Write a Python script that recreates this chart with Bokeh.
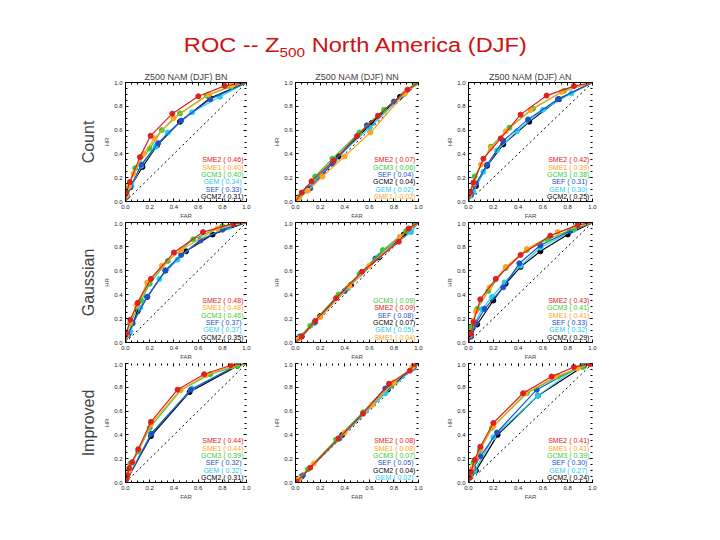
from bokeh.plotting import figure
from bokeh.models import (Div, LinearAxis, Title, Range1d, ColumnDataSource,
                          SingleIntervalTicker, PrintfTickFormatter)
from bokeh.layouts import column, row
from bokeh.embed import file_html
from bokeh.resources import INLINE
from bokeh.core.properties import value

MODELS_DRAW_ORDER = ["GCM2", "GEM", "SEF", "GCM3", "SME1", "SME2"]
COLORS = {"SME2": "#dd2020", "SME1": "#ffa520", "GCM3": "#33cc33",
          "GEM": "#22ccee", "SEF": "#2050c8", "GCM2": "#000000"}
METHODS = ["Count", "Gaussian", "Improved"]
CATEGORIES = ["BN", "NN", "AN"]
NO_SKILL = [0.0, 1.0]

# ---------------- Count ----------------
count_bn_far = dict(
    SME2=[0, 0.006, 0.036, 0.119, 0.207, 0.387, 0.602, 0.82, 1],
    SME1=[0, 0.01, 0.03, 0.066, 0.15, 0.24, 0.395, 0.69, 0.88, 1],
    GCM3=[0, 0.005, 0.02, 0.08, 0.20, 0.30, 0.45, 0.67, 0.87, 1],
    GEM=[0, 0.015, 0.05, 0.13, 0.25, 0.35, 0.55, 0.78, 1],
    SEF=[0, 0.01, 0.04, 0.13, 0.27, 0.46, 0.70, 1],
    GCM2=[0, 0.01, 0.04, 0.14, 0.26, 0.45, 0.70, 1])
count_bn_hr = dict(
    SME2=[0, 0.075, 0.163, 0.373, 0.552, 0.738, 0.884, 0.972, 1],
    SME1=[0, 0.05, 0.13, 0.232, 0.40, 0.53, 0.70, 0.90, 0.975, 1],
    GCM3=[0, 0.05, 0.12, 0.28, 0.445, 0.60, 0.74, 0.89, 0.965, 1],
    GEM=[0, 0.05, 0.13, 0.30, 0.46, 0.58, 0.75, 0.88, 1],
    SEF=[0, 0.04, 0.12, 0.31, 0.49, 0.68, 0.86, 1],
    GCM2=[0, 0.04, 0.12, 0.29, 0.47, 0.67, 0.87, 1])
count_bn_legend = ["SME2", "SME1", "GCM3", "GEM", "SEF", "GCM2"]
count_bn_score = [0.46, 0.40, 0.40, 0.34, 0.33, 0.31]

count_nn_far = dict(
    SME2=[0, 0.05, 0.13, 0.31, 0.50, 0.67, 0.91, 1],
    SME1=[0, 0.02, 0.10, 0.22, 0.40, 0.61, 0.89, 1],
    GCM3=[0, 0.03, 0.16, 0.30, 0.52, 0.72, 0.97, 1],
    GEM=[0, 0.08, 0.32, 0.60, 0.88, 1],
    SEF=[0, 0.12, 0.30, 0.58, 0.80, 1],
    GCM2=[0, 0.10, 0.35, 0.62, 0.85, 1])
count_nn_hr = dict(
    SME2=[0, 0.075, 0.17, 0.345, 0.55, 0.72, 0.94, 1],
    SME1=[0, 0.02, 0.09, 0.21, 0.38, 0.58, 0.91, 1],
    GCM3=[0, 0.04, 0.21, 0.36, 0.58, 0.77, 0.99, 1],
    GEM=[0, 0.09, 0.35, 0.62, 0.90, 1],
    SEF=[0, 0.11, 0.32, 0.64, 0.84, 1],
    GCM2=[0, 0.11, 0.38, 0.66, 0.88, 1])
count_nn_legend = ["SME2", "GCM3", "SEF", "GCM2", "GEM", "SME1"]
count_nn_score = [0.07, 0.06, 0.04, 0.04, 0.02, -0.02]

count_an_far = dict(
    SME2=[0, 0.014, 0.04, 0.12, 0.26, 0.42, 0.63, 0.85, 1],
    SME1=[0, 0.01, 0.04, 0.10, 0.18, 0.30, 0.50, 0.75, 1],
    GCM3=[0, 0.01, 0.05, 0.18, 0.33, 0.52, 0.77, 1],
    GEM=[0, 0.02, 0.04, 0.12, 0.23, 0.39, 0.60, 0.83, 1],
    SEF=[0, 0.02, 0.06, 0.15, 0.28, 0.48, 0.72, 1],
    GCM2=[0, 0.02, 0.06, 0.15, 0.28, 0.49, 0.73, 1])
count_an_hr = dict(
    SME2=[0, 0.075, 0.16, 0.36, 0.53, 0.73, 0.89, 0.97, 1],
    SME1=[0, 0.06, 0.15, 0.31, 0.45, 0.59, 0.77, 0.92, 1],
    GCM3=[0, 0.07, 0.21, 0.46, 0.62, 0.78, 0.93, 1],
    GEM=[0, 0.05, 0.08, 0.25, 0.43, 0.59, 0.77, 0.91, 1],
    SEF=[0, 0.06, 0.15, 0.31, 0.51, 0.69, 0.86, 1],
    GCM2=[0, 0.07, 0.13, 0.30, 0.48, 0.67, 0.86, 1])
count_an_legend = ["SME2", "SME1", "GCM3", "SEF", "GEM", "GCM2"]
count_an_score = [0.42, 0.39, 0.38, 0.31, 0.30, 0.25]

# ---------------- Gaussian ----------------
gauss_bn_far = dict(
    SME2=[0, 0.006, 0.04, 0.10, 0.21, 0.40, 0.64, 0.89, 1],
    SME1=[0, 0.01, 0.04, 0.09, 0.18, 0.30, 0.46, 0.76, 1],
    GCM3=[0, 0.005, 0.04, 0.13, 0.20, 0.35, 0.56, 0.80, 1],
    GEM=[0, 0.04, 0.12, 0.28, 0.43, 0.62, 0.85, 1],
    SEF=[0, 0.02, 0.06, 0.18, 0.33, 0.46, 0.62, 0.80, 1],
    GCM2=[0, 0.03, 0.10, 0.18, 0.33, 0.50, 0.72, 1])
gauss_bn_hr = dict(
    SME2=[0, 0.075, 0.19, 0.33, 0.53, 0.75, 0.92, 0.99, 1],
    SME1=[0, 0.06, 0.17, 0.31, 0.50, 0.64, 0.77, 0.95, 1],
    GCM3=[0, 0.06, 0.16, 0.35, 0.49, 0.68, 0.86, 0.97, 1],
    GEM=[0, 0.09, 0.29, 0.53, 0.69, 0.86, 0.96, 1],
    SEF=[0, 0.06, 0.16, 0.38, 0.60, 0.73, 0.85, 0.94, 1],
    GCM2=[0, 0.08, 0.26, 0.38, 0.60, 0.76, 0.90, 1])
gauss_bn_legend = ["SME2", "SME1", "GCM3", "SEF", "GEM", "GCM2"]
gauss_bn_score = [0.48, 0.48, 0.46, 0.37, 0.37, 0.35]

gauss_nn_far = dict(
    SME2=[0, 0.05, 0.16, 0.33, 0.54, 0.84, 0.92, 1],
    SME1=[0, 0.02, 0.20, 0.44, 0.60, 0.85, 1],
    GCM3=[0, 0.03, 0.12, 0.35, 0.52, 0.71, 0.90, 0.97, 1],
    GEM=[0, 0.03, 0.15, 0.42, 0.68, 0.94, 1],
    SEF=[0, 0.04, 0.16, 0.40, 0.65, 0.85, 1],
    GCM2=[0, 0.05, 0.20, 0.45, 0.68, 0.88, 1])
gauss_nn_hr = dict(
    SME2=[0, 0.05, 0.18, 0.37, 0.59, 0.84, 0.95, 1],
    SME1=[0, 0.03, 0.21, 0.47, 0.64, 0.88, 1],
    GCM3=[0, 0.04, 0.14, 0.40, 0.57, 0.77, 0.93, 0.99, 1],
    GEM=[0, 0.05, 0.16, 0.45, 0.72, 0.92, 1],
    SEF=[0, 0.05, 0.17, 0.43, 0.70, 0.88, 1],
    GCM2=[0, 0.05, 0.22, 0.48, 0.71, 0.90, 1])
gauss_nn_legend = ["GCM3", "SME2", "SEF", "GCM2", "GEM", "SME1"]
gauss_nn_score = [0.09, 0.09, 0.08, 0.07, 0.05, 0.04]

gauss_an_far = dict(
    SME2=[0, 0.02, 0.04, 0.095, 0.22, 0.42, 0.66, 0.88, 1],
    SME1=[0, 0.01, 0.04, 0.06, 0.17, 0.30, 0.47, 0.72, 1],
    GCM3=[0, 0.01, 0.02, 0.07, 0.16, 0.30, 0.47, 0.64, 0.85, 1],
    GEM=[0, 0.02, 0.04, 0.11, 0.19, 0.29, 0.42, 0.58, 0.85, 1],
    SEF=[0, 0.02, 0.06, 0.13, 0.28, 0.41, 0.58, 0.82, 1],
    GCM2=[0, 0.02, 0.07, 0.20, 0.30, 0.42, 0.58, 0.80, 1])
gauss_an_hr = dict(
    SME2=[0, 0.075, 0.17, 0.36, 0.53, 0.73, 0.89, 0.98, 1],
    SME1=[0, 0.06, 0.18, 0.26, 0.46, 0.63, 0.78, 0.92, 1],
    GCM3=[0, 0.07, 0.13, 0.28, 0.43, 0.62, 0.77, 0.86, 0.95, 1],
    GEM=[0, 0.05, 0.14, 0.28, 0.38, 0.50, 0.64, 0.79, 0.94, 1],
    SEF=[0, 0.05, 0.16, 0.28, 0.46, 0.66, 0.81, 0.93, 1],
    GCM2=[0, 0.06, 0.15, 0.35, 0.49, 0.63, 0.76, 0.90, 1])
gauss_an_legend = ["SME2", "GCM3", "SME1", "SEF", "GEM", "GCM2"]
gauss_an_score = [0.43, 0.41, 0.41, 0.33, 0.32, 0.29]

# ---------------- Improved ----------------
impr_bn_far = dict(
    SME2=[0, 0.006, 0.014, 0.03, 0.055, 0.105, 0.21, 0.43, 0.65, 0.87, 1],
    SME1=[0, 0.01, 0.03, 0.06, 0.11, 0.21, 0.45, 0.66, 0.88, 1],
    GCM3=[0, 0.01, 0.04, 0.105, 0.20, 0.455, 0.70, 0.925, 1],
    GEM=[0, 0.21, 0.55, 0.93, 1],
    SEF=[0, 0.215, 0.54, 0.925, 1],
    GCM2=[0, 0.21, 0.53, 0.925, 1])
impr_bn_hr = dict(
    SME2=[0, 0.025, 0.06, 0.12, 0.17, 0.28, 0.51, 0.78, 0.91, 0.985, 1],
    SME1=[0, 0.03, 0.10, 0.17, 0.28, 0.49, 0.776, 0.90, 0.98, 1],
    GCM3=[0, 0.04, 0.16, 0.26, 0.46, 0.775, 0.91, 0.98, 1],
    GEM=[0, 0.41, 0.79, 0.99, 1],
    SEF=[0, 0.41, 0.78, 0.985, 1],
    GCM2=[0, 0.39, 0.76, 0.98, 1])
impr_bn_legend = ["SME2", "SME1", "GCM3", "SEF", "GEM", "GCM2"]
impr_bn_score = [0.44, 0.44, 0.39, 0.32, 0.32, 0.31]

impr_nn_far = dict(
    SME2=[0, 0.01, 0.12, 0.35, 0.55, 0.76, 0.93, 0.965, 1],
    SME1=[0, 0.03, 0.15, 0.40, 0.62, 0.80, 0.95, 1],
    GCM3=[0, 0.02, 0.10, 0.33, 0.55, 0.78, 0.96, 1],
    GEM=[0, 0.04, 0.36, 0.73, 0.96, 1],
    SEF=[0, 0.06, 0.35, 0.73, 0.96, 1],
    GCM2=[0, 0.05, 0.38, 0.75, 0.96, 1])
impr_nn_hr = dict(
    SME2=[0, 0.005, 0.125, 0.37, 0.58, 0.83, 0.94, 0.995, 1],
    SME1=[0, 0.03, 0.16, 0.42, 0.65, 0.84, 0.97, 1],
    GCM3=[0, 0.03, 0.11, 0.36, 0.59, 0.82, 0.98, 1],
    GEM=[0, 0.04, 0.37, 0.75, 0.96, 1],
    SEF=[0, 0.06, 0.37, 0.79, 0.97, 1],
    GCM2=[0, 0.05, 0.40, 0.78, 0.97, 1])
impr_nn_legend = ["SME2", "SME1", "GCM3", "SEF", "GCM2", "GEM"]
impr_nn_score = [0.08, 0.08, 0.07, 0.05, 0.04, 0.02]

impr_an_far = dict(
    SME2=[0, 0.008, 0.02, 0.05, 0.095, 0.20, 0.44, 0.67, 0.85, 0.98, 1],
    SME1=[0, 0.01, 0.03, 0.06, 0.10, 0.20, 0.46, 0.70, 0.88, 1],
    GCM3=[0, 0.01, 0.04, 0.09, 0.19, 0.47, 0.72, 0.92, 1],
    GEM=[0, 0.05, 0.20, 0.56, 0.92, 1],
    SEF=[0, 0.04, 0.095, 0.23, 0.55, 0.92, 1],
    GCM2=[0, 0.06, 0.235, 0.56, 0.93, 1])
impr_an_hr = dict(
    SME2=[0, 0.04, 0.09, 0.19, 0.30, 0.50, 0.75, 0.89, 0.97, 0.995, 1],
    SME1=[0, 0.04, 0.12, 0.20, 0.29, 0.47, 0.75, 0.89, 0.96, 1],
    GCM3=[0, 0.05, 0.17, 0.27, 0.46, 0.75, 0.89, 0.97, 1],
    GEM=[0, 0.10, 0.38, 0.73, 1.0, 1],
    SEF=[0, 0.12, 0.22, 0.42, 0.78, 0.99, 1],
    GCM2=[0, 0.10, 0.40, 0.73, 0.98, 1])
impr_an_legend = ["SME2", "SME1", "GCM3", "SEF", "GEM", "GCM2"]
impr_an_score = [0.41, 0.41, 0.39, 0.30, 0.27, 0.24]

PANELS = [
    [(count_bn_far, count_bn_hr, count_bn_legend, count_bn_score),
     (count_nn_far, count_nn_hr, count_nn_legend, count_nn_score),
     (count_an_far, count_an_hr, count_an_legend, count_an_score)],
    [(gauss_bn_far, gauss_bn_hr, gauss_bn_legend, gauss_bn_score),
     (gauss_nn_far, gauss_nn_hr, gauss_nn_legend, gauss_nn_score),
     (gauss_an_far, gauss_an_hr, gauss_an_legend, gauss_an_score)],
    [(impr_bn_far, impr_bn_hr, impr_bn_legend, impr_bn_score),
     (impr_nn_far, impr_nn_hr, impr_nn_legend, impr_nn_score),
     (impr_an_far, impr_an_hr, impr_an_legend, impr_an_score)],
]

FONT = "Liberation Sans"


def style_axis(ax, labels=True, line=True):
    ax.ticker = SingleIntervalTicker(interval=0.2, num_minor_ticks=4)
    ax.formatter = PrintfTickFormatter(format="%.1f")
    ax.major_tick_in = 3
    ax.major_tick_out = 0
    ax.minor_tick_in = 2
    ax.minor_tick_out = 0
    ax.major_tick_line_color = "black"
    ax.minor_tick_line_color = "black"
    ax.axis_line_color = "black" if line else None
    if labels:
        ax.major_label_text_font = FONT
        ax.major_label_text_font_size = "6px"
        ax.major_label_text_color = "#222222"
        ax.major_label_standoff = 3
        ax.axis_label_text_font = FONT
        ax.axis_label_text_font_size = "6px"
        ax.axis_label_text_font_style = "normal"
        ax.axis_label_standoff = 1
    else:
        ax.major_label_text_font_size = "0px"
        ax.major_label_text_alpha = 0
        ax.major_label_standoff = 0


def make_panel(r, c):
    far, hr, legend, score = PANELS[r][c]
    lb = [117, 26, 29][c]
    rb = [23, 21, 20][c]
    fw = [121, 123, 124][c]
    tb = [18, 1, 1][r]
    bb = [19, 20, 20][r]
    fh = [120, 120, 119][r]
    p = figure(width=lb + fw + rb, height=tb + fh + bb,
               x_range=Range1d(0, 1), y_range=Range1d(0, 1),
               output_backend="svg", toolbar_location=None, tools="",
               title=None, x_axis_label="FAR", y_axis_label="HR",
               min_border_left=lb, min_border_right=rb,
               min_border_top=tb, min_border_bottom=bb)
    p.grid.visible = False
    p.outline_line_color = None
    p.background_fill_color = "white"
    p.border_fill_color = "white"
    style_axis(p.xaxis[0])
    style_axis(p.yaxis[0])
    top = LinearAxis()
    style_axis(top, labels=False, line=(r < 2))
    p.add_layout(top, "above")
    right = LinearAxis()
    style_axis(right, labels=False, line=False)
    p.add_layout(right, "right")

    if r == 0:
        p.add_layout(Title(text="Z500 NAM (DJF) " + CATEGORIES[c], align="center",
                           text_font=FONT, text_font_size="9px",
                           text_font_style="normal", standoff=2), "above")
    if c == 0:
        p.add_layout(Title(text=METHODS[r], align="center", text_font=FONT,
                           text_font_size="16px", text_font_style="normal",
                           standoff=10), "left")

    p.line(NO_SKILL, NO_SKILL, line_color="black", line_dash="2 3", line_width=1)

    for m in MODELS_DRAW_ORDER:
        xs, ys = far[m], hr[m]
        p.line(xs, ys, line_color=COLORS[m], line_width=1.2)
        p.scatter(xs[1:-1], ys[1:-1], size=5, marker="circle",
                  fill_color=COLORS[m], line_color=COLORS[m])

    n = len(legend)
    src = ColumnDataSource(dict(
        x=[0.975] * n,
        y=[0.044 + 0.061 * (n - 1 - i) for i in range(n)],
        t=["%-4s (%5.2f)" % (legend[i], score[i]) for i in range(n)],
        col=[COLORS[m] for m in legend]))
    p.text(x="x", y="y", text="t", text_color="col", source=src,
           text_font=value(FONT), text_font_size="7px",
           text_align="right", text_baseline="middle")
    return p


title_html = (
    '<div style="width:694px;text-align:center;padding-top:27px;'
    'font-family:\'Liberation Sans\',Arial,sans-serif;font-size:20px;line-height:20px;'
    'color:#cc1111;white-space:nowrap;">'
    '<span style="display:inline-block;transform:scaleX(1.18);">'
    'ROC -- Z<sub style="font-size:13px;line-height:0;">500</sub> North America (DJF)'
    '</span></div>')
title_div = Div(text=title_html, width=694, height=56, margin=0)

rows = [row(*[make_panel(r, c) for c in range(3)]) for r in range(3)]
layout = column(title_div, *rows, margin=(8, 0, 0, 8))

open("out.html", "w").write(file_html(layout, INLINE))
